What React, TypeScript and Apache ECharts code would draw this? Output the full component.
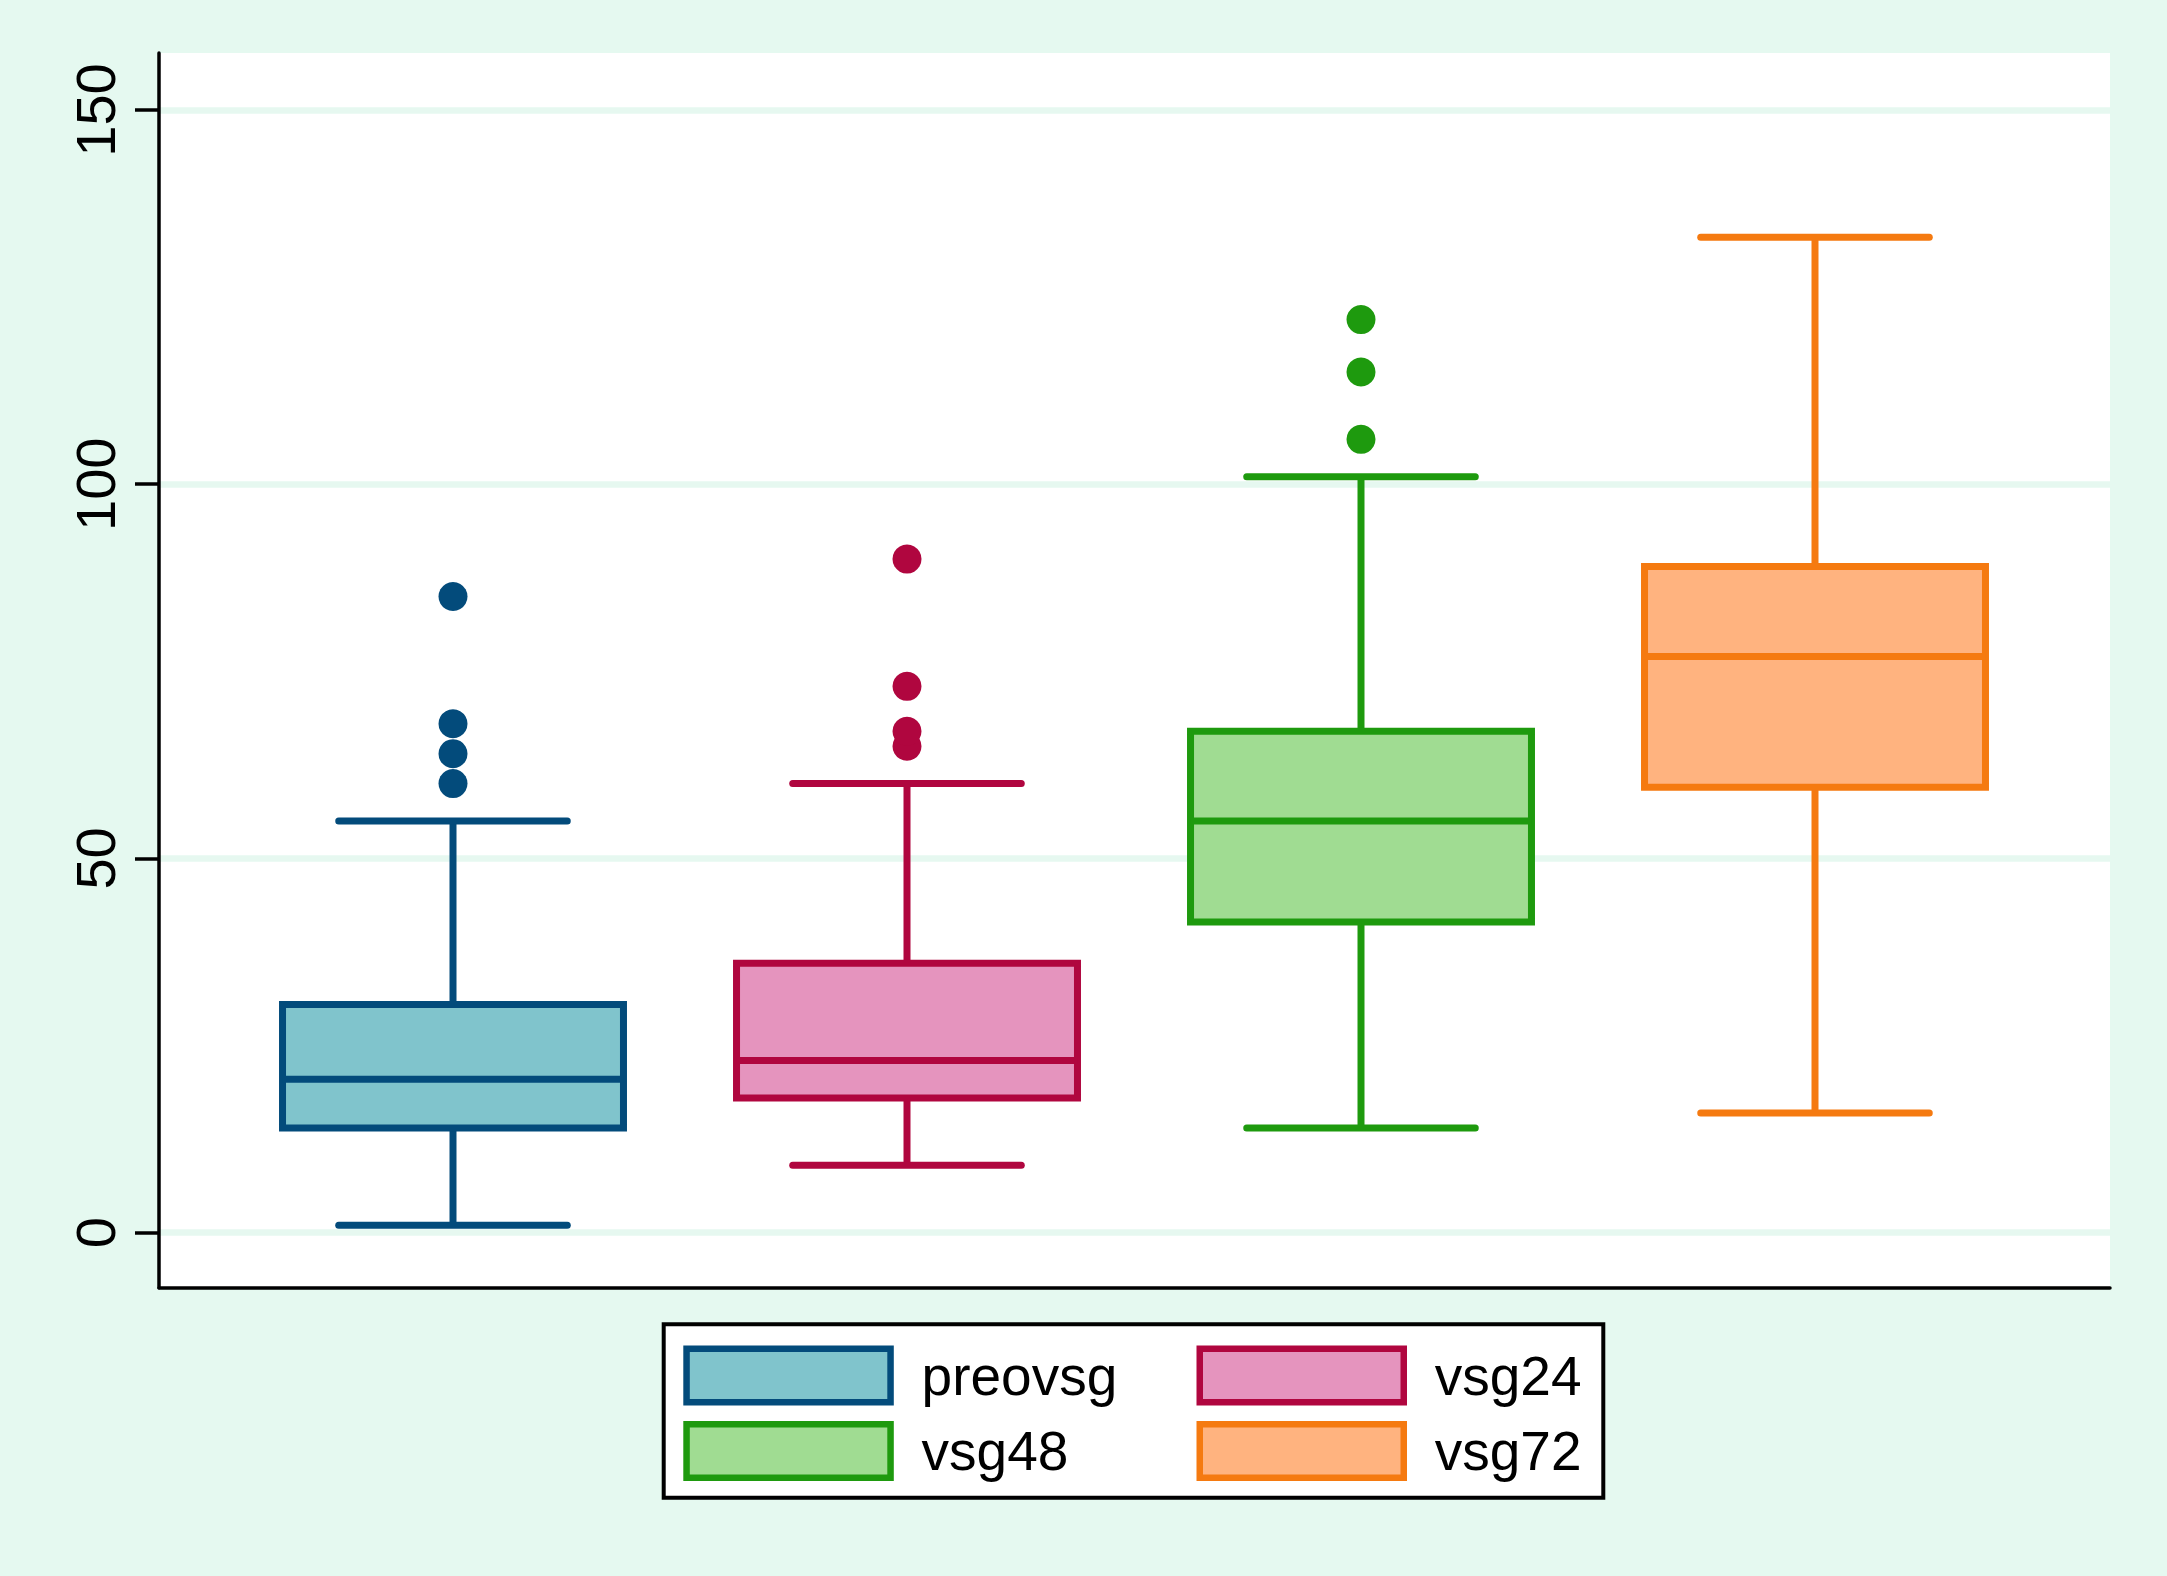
import React, { useEffect, useRef } from "react";
import * as echarts from "echarts";

const categories = ["preovsg", "vsg24", "vsg48", "vsg72"];
const whiskerLow = [1, 9, 14, 16];
const q1 = [14, 18, 41.5, 59.5];
const median = [20.5, 23, 55, 77];
const q3 = [30.5, 36, 67, 89];
const whiskerHigh = [55, 60, 101, 133];
const outliers: number[][] = [
  [60, 64, 68, 85],
  [65, 67, 73, 90],
  [106, 115, 122],
  [],
];
const yTicks = [0, 50, 100, 150];

const borderColors = ["#034B7B", "#B0063F", "#1E9A0E", "#F57A10"];
const fillColors = ["#80C4CC", "#E594BE", "#A0DC92", "#FFB37F"];

const BG = "#E5F9F0";
const GRIDLINE = "#E6F8F0";
const FONT = "Liberation Sans, Arial, Helvetica, sans-serif";

export default function App() {
  const ref = useRef<HTMLDivElement>(null);

  useEffect(() => {
    if (!ref.current) return;
    const chart = echarts.init(ref.current, undefined, { renderer: "svg" });

    const boxSeries = categories.map((name, i) => ({
      type: "custom",
      name,
      xAxisIndex: 1,
      yAxisIndex: 1,
      z: 3,
      itemStyle: { color: fillColors[i], borderColor: borderColors[i] },
      encode: { x: 0, y: [1, 2, 3, 4, 5] },
      data: [[i, whiskerLow[i], q1[i], median[i], q3[i], whiskerHigh[i]]],
      renderItem: (params: any, api: any) => {
        const x = api.value(0);
        const pMin = api.coord([x, api.value(1)]);
        const pQ1 = api.coord([x, api.value(2)]);
        const pMed = api.coord([x, api.value(3)]);
        const pQ3 = api.coord([x, api.value(4)]);
        const pMax = api.coord([x, api.value(5)]);
        const bw = api.size([1, 0])[0];
        const cx = pMed[0];
        const half = bw * 0.3755;
        const capHalf = bw * 0.2517;
        const stroke = borderColors[i];
        const lw = 7;
        const lineStyle = { stroke, lineWidth: lw, lineCap: "butt" };
        const capStyle = { stroke, lineWidth: lw, lineCap: "round" };
        return {
          type: "group",
          children: [
            { type: "line", shape: { x1: cx, y1: pQ3[1], x2: cx, y2: pMax[1] }, style: lineStyle },
            { type: "line", shape: { x1: cx, y1: pQ1[1], x2: cx, y2: pMin[1] }, style: lineStyle },
            { type: "line", shape: { x1: cx - capHalf, y1: pMax[1], x2: cx + capHalf, y2: pMax[1] }, style: capStyle },
            { type: "line", shape: { x1: cx - capHalf, y1: pMin[1], x2: cx + capHalf, y2: pMin[1] }, style: capStyle },
            {
              type: "rect",
              shape: { x: cx - half, y: pQ3[1], width: half * 2, height: pQ1[1] - pQ3[1] },
              style: { fill: fillColors[i], stroke, lineWidth: lw, lineJoin: "miter" },
            },
            { type: "line", shape: { x1: cx - half, y1: pMed[1], x2: cx + half, y2: pMed[1] }, style: lineStyle },
          ],
        };
      },
    }));

    const outlierSeries = categories.map((name, i) => ({
      type: "scatter",
      name,
      xAxisIndex: 1,
      yAxisIndex: 1,
      z: 4,
      symbol: "circle",
      symbolSize: 29,
      itemStyle: { color: borderColors[i], opacity: 1 },
      data: outliers[i].map((v) => [i, v]),
    }));

    const legendItem = (i: number) => ({
      name: categories[i],
      icon: "rect",
      itemStyle: { color: fillColors[i], borderColor: borderColors[i], borderWidth: 6.5 },
    });

    const legendCommon = {
      orient: "vertical",
      padding: 0,
      itemWidth: 204,
      itemHeight: 53.5,
      itemGap: 15.5,
      selectedMode: false,
      z: 5,
      textStyle: {
        fontSize: 55,
        lineHeight: 53.5,
        fontFamily: FONT,
        color: "#000",
        padding: [0, 0, 0, 26],
      },
    };

    chart.setOption({
      animation: false,
      backgroundColor: BG,
      grid: [
        { left: 159, top: 53, width: 1951, height: 1234.7, show: true, backgroundColor: "#FFFFFF", borderWidth: 0 },
        { left: 159, top: 110, width: 1951, height: 1122.7 },
      ],
      xAxis: [
        {
          gridIndex: 0,
          type: "value",
          min: 0,
          max: 1,
          position: "bottom",
          axisLine: { show: true, onZero: false, lineStyle: { color: "#000", width: 3.5 } },
          axisTick: { show: false },
          axisLabel: { show: false },
          splitLine: { show: false },
        },
        {
          gridIndex: 1,
          type: "value",
          min: -0.64758,
          max: 3.64978,
          show: false,
          axisLine: { onZero: false },
        },
      ],
      yAxis: [
        {
          gridIndex: 0,
          type: "value",
          min: 0,
          max: 1,
          position: "left",
          axisLine: { show: true, onZero: false, lineStyle: { color: "#000", width: 3.5 } },
          axisTick: { show: false },
          axisLabel: { show: false },
          splitLine: { show: false },
        },
        {
          gridIndex: 1,
          type: "value",
          min: yTicks[0],
          max: yTicks[yTicks.length - 1],
          interval: 50,
          position: "left",
          axisLine: { show: false, onZero: false },
          axisTick: { show: true, length: 24, lineStyle: { color: "#000", width: 3.5 } },
          axisLabel: {
            show: true,
            rotate: 90,
            margin: 36,
            fontSize: 56,
            fontFamily: FONT,
            color: "#000",
          },
          splitLine: { show: true, lineStyle: { color: GRIDLINE, width: 6.5 } },
        },
      ],
      legend: [
        { ...legendCommon, left: 683.3, top: 1345.5, data: [legendItem(0), legendItem(2)] },
        { ...legendCommon, left: 1196.5, top: 1345.5, data: [legendItem(1), legendItem(3)] },
      ],
      graphic: [
        {
          type: "rect",
          z: 1,
          shape: { x: 663.7, y: 1324.3, width: 939.6, height: 173.4 },
          style: { fill: "#FFFFFF", stroke: "#000", lineWidth: 4 },
          silent: true,
        },
      ],
      series: [...boxSeries, ...outlierSeries],
    } as any);

    return () => chart.dispose();
  }, []);

  return (
    <div
      ref={ref}
      style={{ position: "absolute", left: 0, top: 0, width: 2167, height: 1576, background: BG }}
    />
  );
}
